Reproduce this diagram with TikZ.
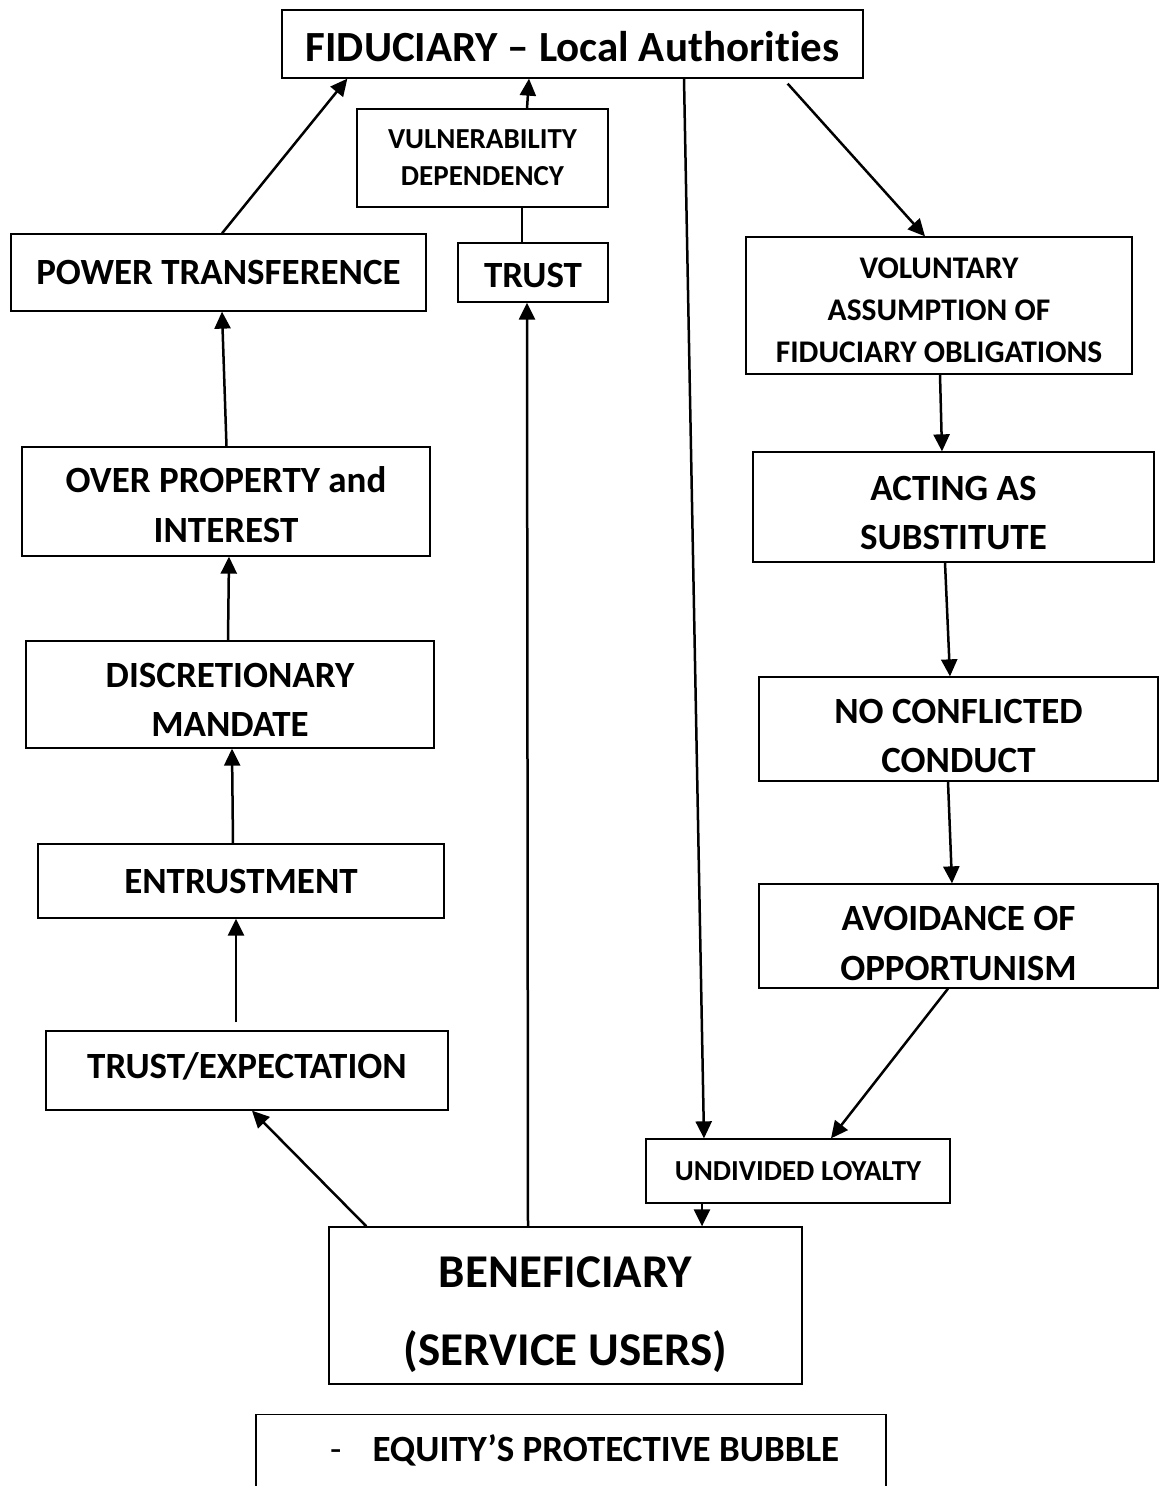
\documentclass[tikz,border=0pt]{standalone}
\usepackage{fontspec}
\setmainfont{Carlito}[Ligatures={TeX,NoCommon}]
\usetikzlibrary{arrows.meta}

\begin{document}
\begin{tikzpicture}[x=1pt, y=-1pt,
    box/.style={rectangle, draw, line width=1.3pt, inner sep=0pt, align=center},
    big/.style={font=\fontsize{47}{78}\selectfont\bfseries},
    head/.style={font=\fontsize{43}{52}\selectfont\bfseries},
    mid/.style={font=\fontsize{37}{49.5}\selectfont\bfseries},
    small/.style={font=\fontsize{31.5}{42}\selectfont\bfseries},
    tiny/.style={font=\fontsize{29}{37}\selectfont\bfseries},
    arr/.style={-{Triangle[length=17pt,width=16pt]}, line width=2.5pt}]
  \useasboundingbox (0,0) rectangle (1159,1486);
  \clip (0,0) rectangle (1159,1486);
  \node (fid) [box, head, minimum width=581pt, minimum height=68pt] at (572.5,44) {\rule{0pt}{36pt}FIDUCIARY -- Local Authorities};
  \node (vul) [box, tiny, minimum width=251pt, minimum height=98pt] at (482.5,158) {VULNERABILITY\\DEPENDENCY};
  \node (trust) [box, mid, minimum width=150pt, minimum height=59pt] at (533,272.5) {\rule{0pt}{30pt}TRUST};
  \node (power) [box, mid, minimum width=415pt, minimum height=77pt] at (218.5,272.5) {POWER TRANSFERENCE};
  \node (vol) [box, small, minimum width=386pt, minimum height=137pt] at (939,305.5) {\rule{0pt}{31pt}VOLUNTARY\\ASSUMPTION OF\\FIDUCIARY OBLIGATIONS};
  \node (over) [box, mid, minimum width=408pt, minimum height=109pt] at (226,501.5) {\rule{0pt}{32pt}OVER PROPERTY and\\INTEREST};
  \node (acting) [box, mid, minimum width=401pt, minimum height=110pt] at (953.5,507) {\rule{0pt}{36pt}ACTING AS\\SUBSTITUTE};
  \node (disc) [box, mid, minimum width=408pt, minimum height=107pt] at (230,694.5) {\rule{0pt}{35pt}DISCRETIONARY\\MANDATE};
  \node (noconf) [box, mid, minimum width=399pt, minimum height=104pt] at (958.5,729) {\rule{0pt}{38pt}NO CONFLICTED\\CONDUCT};
  \node (entr) [box, mid, minimum width=406pt, minimum height=74pt] at (241,881) {ENTRUSTMENT};
  \node (avoid) [box, mid, minimum width=399pt, minimum height=104pt] at (958.5,936) {\rule{0pt}{39pt}AVOIDANCE OF\\OPPORTUNISM};
  \node (texp) [box, mid, minimum width=402pt, minimum height=79pt] at (247,1070.5) {\rule[-10pt]{0pt}{10pt}TRUST/EXPECTATION};
  \node (loyal) [box, tiny, minimum width=304pt, minimum height=64pt] at (798,1171) {UNDIVIDED LOYALTY};
  \node (benef) [box, big, minimum width=473pt, minimum height=157pt] at (565.5,1305.5) {\rule{0pt}{49pt}BENEFICIARY\\(SERVICE USERS)};
  \node (bubble) [box, minimum width=630pt, minimum height=120pt, anchor=north] at (571,1414) {};
  \node (bubbletext) [mid, inner sep=0pt, anchor=west] at (330,1450) {{\mdseries -}\hspace{31pt}EQUITY’S PROTECTIVE BUBBLE};
  \draw [arr] ([xshift=3.5pt]power.north) -- ([xshift=66pt]fid.south west);
  \draw [arr] ([xshift=44.5pt]vul.north) -- ([xshift=-43.5pt]fid.south);
  \draw [line width=2pt] ([xshift=39.5pt]vul.south) -- ([xshift=-11pt]trust.north);
  \draw [arr] ([xshift=-37.5pt]benef.north) -- ([xshift=-6pt]trust.south);
  \draw [arr] ([xshift=111.5pt]fid.south) -- ([xshift=-94pt]loyal.north);
  \draw [arr] ([xshift=-76pt,yshift=-5pt]fid.south east) -- ([xshift=-14pt]vol.north);
  \draw [arr] ([xshift=1pt]vol.south) -- ([xshift=-11.5pt]acting.north);
  \draw [arr] ([xshift=-8.5pt]acting.south) -- ([xshift=-8.5pt]noconf.north);
  \draw [arr] ([xshift=-10.5pt]noconf.south) -- ([xshift=-6.5pt]avoid.north);
  \draw [arr] ([xshift=-10.5pt]avoid.south) -- ([xshift=33pt]loyal.north);
  \draw [arr] ([xshift=-96pt]loyal.south) -- ([xshift=136.5pt]benef.north);
  \draw [arr] ([xshift=38pt]benef.north west) -- ([xshift=5pt]texp.south);
  \draw [arr] ([xshift=-11pt,yshift=8pt]texp.north) -- ([xshift=-5pt]entr.south);
  \draw [arr] ([xshift=-8pt]entr.north) -- ([xshift=2pt]disc.south);
  \draw [arr] ([xshift=-2pt]disc.north) -- ([xshift=3pt]over.south);
  \draw [arr] ([xshift=0.5pt]over.north) -- ([xshift=3.5pt]power.south);
\end{tikzpicture}
\end{document}
